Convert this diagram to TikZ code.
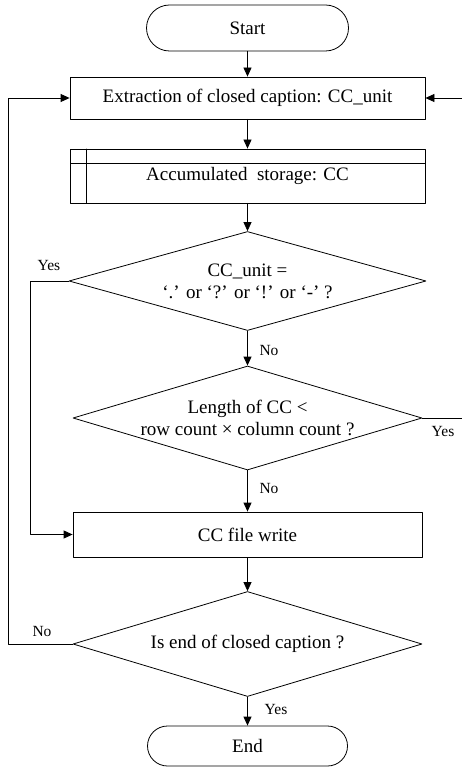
\documentclass[tikz,border=0pt]{standalone}
\usepackage{fontspec}
\setmainfont{Liberation Serif}
\usetikzlibrary{shapes.geometric,arrows.meta}

\begin{document}
\begin{tikzpicture}[x=1pt, y=-1pt, line cap=round, line join=round,
    base/.style={draw, line width=0.8pt, font=\fontsize{19}{22}\selectfont},
    term/.style={base, rounded corners=23pt, minimum width=202pt, minimum height=46pt},
    proc/.style={base, minimum width=355pt, minimum height=42pt},
    decision/.style={draw, line width=0.8pt, diamond, inner sep=0pt},
    dtext/.style={align=center, font=\fontsize{19}{22}\selectfont},
    lbl/.style={font=\fontsize{15.5}{18}\selectfont},
    arr/.style={-{Triangle[length=9pt,width=8pt]}, line width=0.8pt}]
  \useasboundingbox (0,0) rectangle (461,767);

  % boxes
  \node[term] (start) at (247.5,28) {Start};
  \node[proc] (extract) at (247.5,98) {Extraction of closed caption: CC\_unit};
  \node[proc, minimum height=54pt, path picture={
      \draw[line width=0.8pt] ([xshift=16pt]path picture bounding box.north west) -- ([xshift=16pt]path picture bounding box.south west);
      \draw[line width=0.8pt] ([yshift=-14pt]path picture bounding box.north west) -- ([yshift=-14pt]path picture bounding box.north east);
    }] (store) at (247.5,176) {Accumulated\ \ storage: CC};
  \node[decision, minimum width=357pt, minimum height=99pt] (d1) at (247.5,281) {};
  \node[dtext] (d1txt) at (247.5,281) {CC\_unit =\\‘.’ or ‘?’ or ‘!’ or ‘-’ ?};
  \node[decision, minimum width=349pt, minimum height=104pt] (d2) at (247.5,418) {};
  \node[dtext] (d2txt) at (247.5,418) {Length of CC <\\row count × column count ?};
  \node[proc, minimum width=349pt, minimum height=45pt] (write) at (247.5,534.5) {CC file write};
  \node[decision, minimum width=349pt, minimum height=105pt] (d3) at (247.5,644) {};
  \node[dtext] (d3txt) at (247.5,644) {Is end of closed caption ?};
  \node[term, minimum width=200pt, minimum height=40pt, rounded corners=20pt] (finish) at (247.5,746) {End};

  % loop corners
  \coordinate (yesx) at (30,0);
  \coordinate (leftx) at (8,0);
  \coordinate (rightx) at (466,0);

  % connectors
  \draw[arr] (start) -- (extract);
  \draw[arr] (extract) -- (store);
  \draw[arr] (store) -- (d1);
  \draw[arr] (d1) -- (d2);
  \draw[arr] (d2) -- (write);
  \draw[arr] (write) -- (d3);
  \draw[arr] (d3) -- (finish);
  \draw[arr] (d1.west) -- (d1.west -| yesx) |- (write.west);
  \draw[arr] (d2.east) -- (d2.east -| rightx) |- (extract.east);
  \draw[arr] (d3.west) -- (d3.west -| leftx) |- (extract.west);

  % branch labels
  \node[lbl] (y1) at (49,265) {Yes};
  \node[lbl] (n1) at (269,350) {No};
  \node[lbl] (y2) at (443,431) {Yes};
  \node[lbl] (n2) at (269,488) {No};
  \node[lbl] (n3) at (42,631) {No};
  \node[lbl] (y3) at (276,709) {Yes};
\end{tikzpicture}
\end{document}
